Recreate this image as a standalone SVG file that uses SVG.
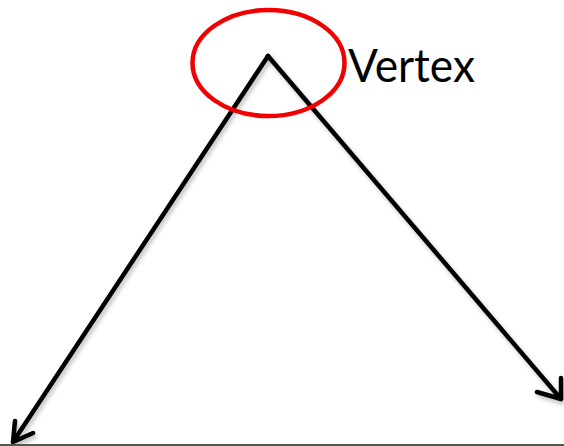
<svg xmlns="http://www.w3.org/2000/svg" width="564" height="446" viewBox="0 0 564 446">
<defs>
<style>
.edge{fill:none;stroke:#000;stroke-width:4.5;stroke-linecap:round;stroke-linejoin:round;filter:url(#sh)}
.lbl{font-family:Lato,"Open Sans",sans-serif;font-size:47px;fill:#000}
</style>
<filter id="sh" x="-10%" y="-10%" width="130%" height="130%">
<feGaussianBlur in="SourceAlpha" stdDeviation="2"/>
<feOffset dx="2" dy="3" result="b"/>
<feComponentTransfer><feFuncA type="linear" slope="0.25"/></feComponentTransfer>
<feMerge><feMergeNode/><feMergeNode in="SourceGraphic"/></feMerge>
</filter>
</defs>
<rect width="564" height="446" fill="#fff"/>
<g id="connectors">
<path class="edge" d="M268 56 L13 442 M15 421 L13 442 L33 433"/>
<path class="edge" d="M268 56 L561 399 M537 392 L561 399 L561 378"/>
</g>
<g id="vertex-marker">
<ellipse cx="268.5" cy="63" rx="76" ry="53" fill="none" stroke="#f00000" stroke-width="4.5"/>
</g>
<g id="vertex-label">
<text class="lbl" x="348" y="82" textLength="127" lengthAdjust="spacingAndGlyphs">Vertex</text>
</g>
<line x1="0" y1="445" x2="564" y2="445" stroke="#555" stroke-width="2"/>
</svg>
